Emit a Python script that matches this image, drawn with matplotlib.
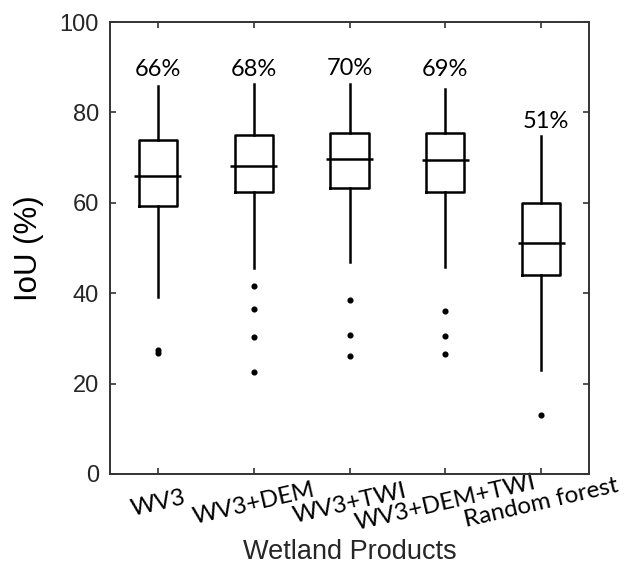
import matplotlib
matplotlib.use("Agg")
import matplotlib.pyplot as plt
import numpy as np

# box statistics (IoU %)
products = ["WV3", "WV3+DEM", "WV3+TWI", "WV3+DEM+TWI", "Random forest"]
whisker_hi = [85.9, 86.3, 86.3, 85.1, 74.8]
q3 = [73.9, 75.1, 75.5, 75.4, 59.9]
medians = [65.9, 68.1, 69.6, 69.5, 51.2]
q1 = [59.3, 62.5, 63.2, 62.3, 44.0]
whisker_lo = [39.1, 45.6, 46.9, 45.9, 23.0]
outliers = [
    [27.4, 26.7],
    [41.7, 36.4, 30.3, 22.6],
    [38.4, 30.8, 26.0],
    [36.1, 30.5, 26.5],
    [13.1],
]
pct_labels = ["66%", "68%", "70%", "69%", "51%"]
pct_label_y = [89.5, 89.5, 89.8, 89.5, 78.0]

txt = "#262626"
plt.rcParams["font.family"] = ["Liberation Sans", "DejaVu Sans"]

fig = plt.figure(figsize=(6.31, 5.67), dpi=100)
ax = fig.add_axes([110 / 631, 93 / 567, 479 / 631, 452 / 567])

stats = []
for i in range(len(products)):
    stats.append({
        "label": products[i],
        "med": medians[i],
        "q1": q1[i],
        "q3": q3[i],
        "whislo": whisker_lo[i],
        "whishi": whisker_hi[i],
        "fliers": outliers[i],
    })

pos = np.arange(1, len(products) + 1)
ax.bxp(stats, positions=pos, widths=0.4, showcaps=False,
       boxprops=dict(color="black", linewidth=1.8),
       whiskerprops=dict(color="black", linewidth=1.8),
       medianprops=dict(linewidth=0),
       flierprops=dict(marker="o", markerfacecolor="black",
                       markeredgecolor="black", markersize=3.4))
# median bars stick out a little past the box
ax.hlines(medians, pos - 0.245, pos + 0.245, colors="black", linewidth=1.8)

for i in range(len(products)):
    ax.text(pos[i] + (0.05 if i == 4 else 0), pct_label_y[i], pct_labels[i],
            ha="center", va="center", fontsize=17, color="black",
            family=["Lato", "DejaVu Sans"])

ax.set_xlim(0.5, 5.5)
ax.set_ylim(0, 100)
ax.set_yticks([0, 20, 40, 60, 80, 100])
ax.set_xticks(pos)
ax.set_xticklabels(products, rotation=13, ha="center", va="center",
                   rotation_mode="anchor", fontsize=17.5, color="black",
                   family=["Lato", "DejaVu Sans"])
ax.tick_params(axis="x", direction="in", top=True, length=4, width=1.2,
               pad=21, colors="#333333", labelcolor="black")
ax.tick_params(axis="y", direction="in", right=True, length=4, width=1.2,
               pad=8, labelsize=17, colors="#333333", labelcolor=txt)
for s in ax.spines.values():
    s.set_linewidth(1.4)
    s.set_color("#333333")

ax.set_ylabel("IoU (%)", fontsize=22.5, color="black", va="center")
ax.yaxis.set_label_coords(-81 / 479, 0.5)
ax.set_xlabel("Wetland Products", fontsize=19.5, color=txt, va="center")
ax.xaxis.set_label_coords(0.5, -78 / 452)

fig.savefig("out.png", dpi=100)
